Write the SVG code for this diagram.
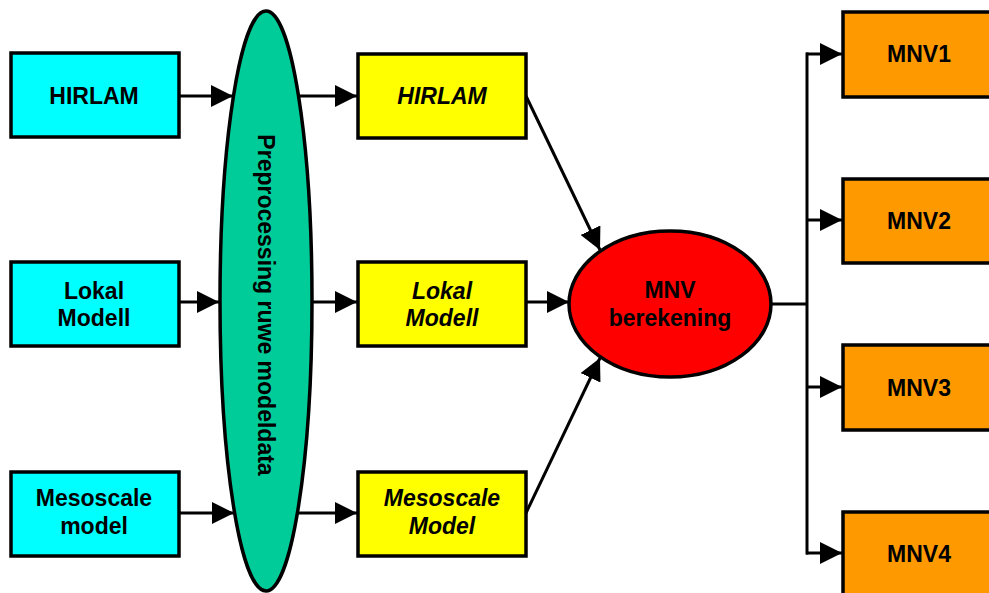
<svg xmlns="http://www.w3.org/2000/svg" width="989" height="593" viewBox="0 0 989 593">
<style>
.box{stroke:#000;stroke-width:3.5}
.src{fill:#00FFFF}
.mid{fill:#FFFF00}
.out{fill:#FF9900}
.t{font-family:"Liberation Sans",Arial,sans-serif;font-weight:bold;font-size:23px;fill:#000;text-anchor:middle}
.i{font-style:italic}
.c{stroke:#000;stroke-width:3;fill:none}
</style>
<defs>
<marker id="ah" markerUnits="userSpaceOnUse" markerWidth="22" markerHeight="22" refX="22" refY="11" orient="auto" viewBox="0 0 22 22">
<path d="M0,0 L22,11 L0,22 z" fill="#000"/>
</marker>
</defs>
<rect width="989" height="593" fill="#fff"/>
<g id="connectors">
<line class="c" x1="179" y1="96" x2="233" y2="96" marker-end="url(#ah)"/>
<line class="c" x1="299" y1="96" x2="357" y2="96" marker-end="url(#ah)"/>
<line class="c" x1="179" y1="302" x2="219" y2="302" marker-end="url(#ah)"/>
<line class="c" x1="312" y1="302" x2="357" y2="302" marker-end="url(#ah)"/>
<line class="c" x1="179" y1="513" x2="234" y2="513" marker-end="url(#ah)"/>
<line class="c" x1="297" y1="513" x2="357" y2="513" marker-end="url(#ah)"/>
<line class="c" x1="526" y1="96" x2="600" y2="250" marker-end="url(#ah)"/>
<line class="c" x1="526" y1="302" x2="569" y2="302" marker-end="url(#ah)"/>
<line class="c" x1="526" y1="513" x2="600" y2="358" marker-end="url(#ah)"/>
<polyline class="c" points="771,304 807,304"/>
<line class="c" x1="807" y1="52.5" x2="807" y2="554.5"/>
<line class="c" x1="806" y1="54" x2="842" y2="54" marker-end="url(#ah)"/>
<line class="c" x1="806" y1="220" x2="842" y2="220" marker-end="url(#ah)"/>
<line class="c" x1="806" y1="387" x2="842" y2="387" marker-end="url(#ah)"/>
<line class="c" x1="806" y1="553" x2="842" y2="553" marker-end="url(#ah)"/>
</g>
<g id="src-hirlam"><rect class="box src" x="11" y="53" width="168" height="84"/><text class="t" x="94" y="104">HIRLAM</text></g>
<g id="src-lokal"><rect class="box src" x="11" y="262" width="168" height="84"/><text class="t" x="94" y="299">Lokal</text><text class="t" x="94" y="326">Modell</text></g>
<g id="src-meso"><rect class="box src" x="11" y="472" width="168" height="84"/><text class="t" x="94" y="506">Mesoscale</text><text class="t" x="94" y="534">model</text></g>
<g id="preprocessing"><ellipse cx="266" cy="301" rx="46" ry="290" fill="#00CC99" stroke="#000" stroke-width="3.5"/><text class="t" transform="translate(266,305) rotate(90)" y="8">Preprocessing ruwe modeldata</text></g>
<g id="mid-hirlam"><rect class="box mid" x="358" y="54" width="168" height="84"/><text class="t i" x="442" y="104">HIRLAM</text></g>
<g id="mid-lokal"><rect class="box mid" x="358" y="262" width="168" height="84"/><text class="t i" x="442" y="299">Lokal</text><text class="t i" x="442" y="326">Modell</text></g>
<g id="mid-meso"><rect class="box mid" x="358" y="472" width="168" height="84"/><text class="t i" x="442" y="506">Mesoscale</text><text class="t i" x="442" y="534">Model</text></g>
<g id="mnv"><ellipse cx="670" cy="304" rx="101" ry="73" fill="#FF0000" stroke="#000" stroke-width="3.5"/><text class="t" x="670" y="298">MNV</text><text class="t" x="670" y="326">berekening</text></g>
<g id="mnv1"><rect class="box out" x="843" y="12" width="160" height="85"/><text class="t" x="919" y="62">MNV1</text></g>
<g id="mnv2"><rect class="box out" x="843" y="179" width="160" height="84"/><text class="t" x="919" y="229">MNV2</text></g>
<g id="mnv3"><rect class="box out" x="843" y="345" width="160" height="85"/><text class="t" x="919" y="396">MNV3</text></g>
<g id="mnv4"><rect class="box out" x="843" y="512" width="160" height="100"/><text class="t" x="919" y="562">MNV4</text></g>
</svg>
